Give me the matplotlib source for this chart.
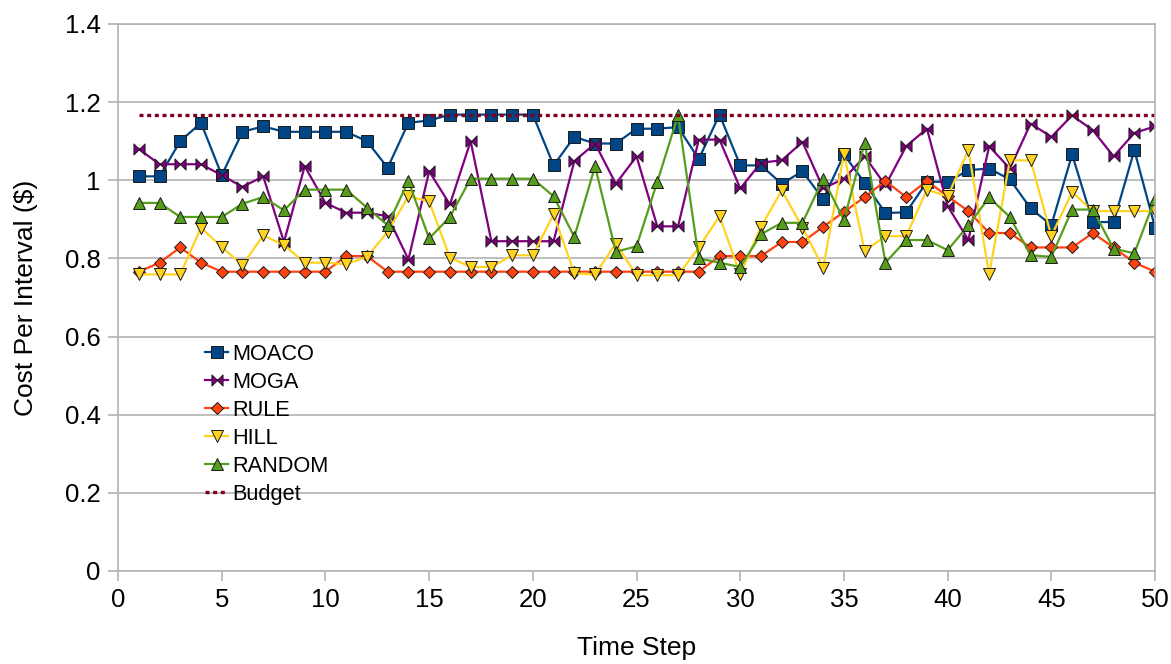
import matplotlib
matplotlib.use("Agg")
import matplotlib.pyplot as plt
from matplotlib.path import Path

plt.rcParams['font.family'] = ['Liberation Sans', 'DejaVu Sans']

steps = list(range(1, 51))

moaco = [1.010, 1.010, 1.100, 1.147, 1.013, 1.124, 1.138, 1.124, 1.124, 1.124,
         1.124, 1.100, 1.032, 1.147, 1.153, 1.168, 1.168, 1.168, 1.168, 1.168,
         1.038, 1.111, 1.094, 1.094, 1.132, 1.132, 1.136, 1.054, 1.168, 1.038,
         1.038, 0.991, 1.023, 0.951, 1.066, 0.993, 0.916, 0.918, 0.996, 0.996,
         1.026, 1.030, 1.002, 0.928, 0.885, 1.066, 0.893, 0.893, 1.077, 0.879]
moga = [1.080, 1.041, 1.041, 1.041, 1.013, 0.983, 1.010, 0.842, 1.036, 0.942,
        0.917, 0.917, 0.908, 0.797, 1.023, 0.938, 1.100, 0.844, 0.844, 0.844,
        0.844, 1.049, 1.094, 0.991, 1.061, 0.882, 0.882, 1.104, 1.104, 0.979,
        1.045, 1.051, 1.098, 0.979, 1.004, 1.061, 0.987, 1.087, 1.132, 0.934,
        0.847, 1.087, 1.030, 1.145, 1.111, 1.166, 1.128, 1.061, 1.121, 1.138]
rule = [0.766, 0.789, 0.828, 0.789, 0.766, 0.766, 0.766, 0.766, 0.766, 0.766,
        0.806, 0.806, 0.766, 0.766, 0.766, 0.766, 0.766, 0.766, 0.766, 0.766,
        0.766, 0.766, 0.766, 0.766, 0.766, 0.766, 0.766, 0.766, 0.806, 0.806,
        0.806, 0.842, 0.842, 0.881, 0.919, 0.957, 0.998, 0.957, 0.998, 0.959,
        0.921, 0.865, 0.865, 0.828, 0.828, 0.828, 0.865, 0.828, 0.789, 0.766]
hill = [0.759, 0.759, 0.759, 0.879, 0.829, 0.783, 0.859, 0.834, 0.789, 0.789,
        0.785, 0.804, 0.868, 0.959, 0.946, 0.802, 0.778, 0.778, 0.808, 0.808,
        0.913, 0.762, 0.759, 0.838, 0.757, 0.757, 0.757, 0.828, 0.908, 0.759,
        0.881, 0.974, 0.879, 0.776, 1.068, 0.819, 0.857, 0.857, 0.976, 0.959,
        1.077, 0.759, 1.051, 1.051, 0.857, 0.970, 0.921, 0.921, 0.921, 0.921]
random_ = [0.942, 0.942, 0.906, 0.906, 0.906, 0.940, 0.957, 0.923, 0.976, 0.976,
           0.976, 0.930, 0.885, 0.998, 0.851, 0.906, 1.004, 1.004, 1.004, 1.004,
           0.959, 0.855, 1.036, 0.817, 0.831, 0.996, 1.166, 0.800, 0.789, 0.778,
           0.862, 0.891, 0.891, 1.004, 0.898, 1.096, 0.789, 0.847, 0.847, 0.821,
           0.885, 0.956, 0.906, 0.808, 0.804, 0.925, 0.925, 0.825, 0.813, 0.953]
budget = 1.168

# bowtie marker for MOGA
bowtie = Path([(-1, 1), (0, 0), (1, 1), (1, -1), (0, 0), (-1, -1), (-1, 1)],
              [Path.MOVETO] + [Path.LINETO] * 5 + [Path.CLOSEPOLY])

fig = plt.figure(figsize=(11.71, 6.64), dpi=100)
ax = fig.add_axes([0.1008, 0.1401, 0.8856, 0.8238])

grey = '#b3b3b3'
ax.set_xlim(0, 50)
ax.set_ylim(0, 1.4)
ax.set_yticks([0, 0.2, 0.4, 0.6, 0.8, 1.0, 1.2, 1.4])
ax.set_yticklabels(['0', '0.2', '0.4', '0.6', '0.8', '1', '1.2', '1.4'])
ax.set_xticks(range(0, 51, 5))
ax.yaxis.grid(True, color=grey, linewidth=1.2)
ax.set_axisbelow(True)
for s in ax.spines.values():
    s.set_color(grey)
    s.set_linewidth(1.2)
ax.tick_params(colors=grey, labelcolor='black', labelsize=18.5, length=7.5, width=1.2, pad=5)

lw = 1.6
ms = 8
ax.plot(steps, moaco, color='#004586', marker='s', ms=ms, mfc='#004586', mec='#1a1a1a', mew=0.7, lw=lw, label='MOACO')
ax.plot(steps, moga, color='#800080', marker=bowtie, ms=ms, mfc='#800080', mec='#1a1a1a', mew=0.7, lw=lw, label='MOGA')
ax.plot(steps, rule, color='#ff420e', marker='D', ms=6.5, mfc='#ff420e', mec='#1a1a1a', mew=0.7, lw=lw, label='RULE')
ax.plot(steps, hill, color='#ffd320', marker='v', ms=ms, mfc='#ffd320', mec='#1a1a1a', mew=0.7, lw=lw, label='HILL')
ax.plot(steps, random_, color='#579d1c', marker='^', ms=ms, mfc='#579d1c', mec='#1a1a1a', mew=0.7, lw=lw, label='RANDOM')
ax.plot([steps[0], steps[-1]], [budget, budget], color='#7e0021', lw=2.4,
        linestyle=(0, (1.2, 1.1)), dash_capstyle='butt', label='Budget')

ax.set_xlabel('Time Step', fontsize=19)
ax.set_ylabel(r'Cost Per Interval (\$)', fontsize=19)
ax.xaxis.set_label_coords(0.5, -0.118)
ax.yaxis.set_label_coords(-0.077, 0.5)

ax.legend(loc='upper left', bbox_to_anchor=(0.084, 0.415), frameon=False,
          fontsize=15.7, handlelength=1.05, handletextpad=0.2, labelspacing=0.32,
          borderaxespad=0, borderpad=0)

fig.savefig('out.png', dpi=100)
